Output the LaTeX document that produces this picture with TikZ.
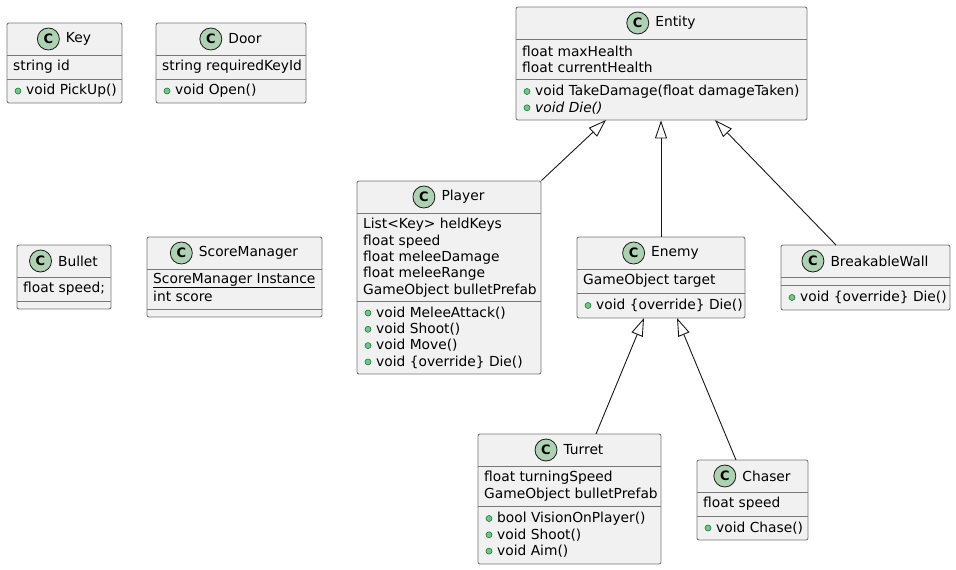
\documentclass[tikz,border=0pt]{standalone}
\usepackage{fontspec}
\setmainfont{DejaVu Sans}
\usetikzlibrary{positioning, arrows.meta}

\definecolor{boxfill}{HTML}{F1F1F1}
\definecolor{boxline}{HTML}{777777}
\definecolor{edgeline}{HTML}{181818}
\definecolor{iconfill}{HTML}{ADD1B2}
\definecolor{dotfill}{HTML}{84BE84}
\definecolor{dotline}{HTML}{038048}

\tikzset{
  classbox/.style={draw=boxline, fill=boxfill, rounded corners=2pt, line width=0.9pt, inner sep=0pt},
  divider/.style={draw=boxline, line width=0.9pt},
  classname/.style={inner sep=0pt, font=\fontsize{13.8}{16}\selectfont},
  cicon/.style={circle, draw=edgeline, fill=iconfill, line width=0.8pt, minimum size=22pt, inner sep=0pt, font=\fontsize{13}{13}\selectfont\bfseries},
  member/.style={anchor=west, inner sep=0pt, font=\fontsize{13.8}{16}\selectfont},
  mdot/.style={circle, draw=dotline, fill=dotfill, line width=0.6pt, minimum size=6pt, inner sep=0pt},
  extends/.style={draw=edgeline, line width=0.9pt, -{Triangle[open, length=18pt, width=12pt]}}
}

% box, header line, separator line and title of one class
\newcommand{\umlclass}[7]{% name, left, top, right, bottom, separator y, title
  \node[classbox, minimum width={#4-#2}, minimum height={#5-#3}] (#1) at ({(#2+#4)/2},{(#3+#5)/2}) {};
  \draw[divider] (#2,#3+32) -- (#4,#3+32);
  \draw[divider] (#2,#6) -- (#4,#6);
  \node[classname] (#1-name) at ({(#2+#4)/2+14},#3+16) {#7};
  \node[cicon, left=6pt of #1-name] (#1-icon) {C};
}
% attribute rows
\newcommand{\fieldrows}[4]{% name, left, first y, list
  \foreach \txt [count=\i from 0] in {#4}
    \node[member] (#1-f\i) at (#2+6, #3+16.3*\i) {\txt};
}
% operation rows with visibility dot
\newcommand{\methodrows}[4]{% name, left, first y, list
  \foreach \txt [count=\i from 0] in {#4} {
    \node[mdot] (#1-d\i) at (#2+11, #3+16.3*\i) {};
    \node[member] (#1-m\i) at (#2+19, #3+16.3*\i) {\txt};
  }
}

\begin{document}
\begin{tikzpicture}[x=1pt, y=-1pt]
  \useasboundingbox (0,0) rectangle (956,570);

  % classes without relations
  \umlclass{key}{7}{23}{122}{103}{79}{Key}
  \fieldrows{key}{7}{67}{string id}
  \methodrows{key}{7}{91}{void PickUp()}

  \umlclass{door}{156}{23}{306}{103}{79}{Door}
  \fieldrows{door}{156}{67}{string requiredKeyId}
  \methodrows{door}{156}{91}{void Open()}

  \umlclass{bullet}{17}{245}{111}{309}{301}{Bullet}
  \fieldrows{bullet}{17}{289}{float speed;}

  \umlclass{score}{147}{237}{322}{317}{309}{ScoreManager}
  \fieldrows{score}{147}{280.5}{\underline{ScoreManager Instance}, int score}

  % hierarchy
  \umlclass{entity}{516}{7}{807}{120}{79}{Entity}
  \fieldrows{entity}{516}{51}{float maxHealth, float currentHealth}
  \methodrows{entity}{516}{91.5}{void TakeDamage(float damageTaken), \textit{void Die()}}

  \umlclass{player}{357}{181}{541}{374}{301}{Player}
  \fieldrows{player}{357}{225}{List<Key> heldKeys, float speed, float meleeDamage, float meleeRange, GameObject bulletPrefab}
  \methodrows{player}{357}{313}{void MeleeAttack(), void Shoot(), void Move(), void \{override\} Die()}

  \umlclass{enemy}{577}{237}{745}{318}{293}{Enemy}
  \fieldrows{enemy}{577}{281}{GameObject target}
  \methodrows{enemy}{577}{305.5}{void \{override\} Die()}

  \umlclass{wall}{781}{245}{950}{310}{285}{BreakableWall}
  \methodrows{wall}{781}{297.5}{void \{override\} Die()}

  \umlclass{turret}{478}{434}{661}{564}{506}{Turret}
  \fieldrows{turret}{478}{478}{float turningSpeed, GameObject bulletPrefab}
  \methodrows{turret}{478}{518.5}{bool VisionOnPlayer(), void Shoot(), void Aim()}

  \umlclass{chaser}{697}{460}{808}{540}{516}{Chaser}
  \fieldrows{chaser}{697}{503.5}{float speed}
  \methodrows{chaser}{697}{528}{void Chase()}

  % end points of the generalisations
  \coordinate (entity-l) at (606,120);
  \coordinate (entity-r) at (715,120);
  \coordinate (enemy-l) at (644,318);
  \coordinate (enemy-r) at (677,318);
  \coordinate (wall-in) at (836,245);
  \coordinate (turret-in) at (596,434);
  \coordinate (chaser-in) at (736,460);

  \draw[extends] (player.north east) -- (entity-l);
  \draw[extends] (enemy.north) -- (enemy.north |- entity.south);
  \draw[extends] (wall-in) -- (entity-r);
  \draw[extends] (turret-in) -- (enemy-l);
  \draw[extends] (chaser-in) -- (enemy-r);
\end{tikzpicture}
\end{document}
